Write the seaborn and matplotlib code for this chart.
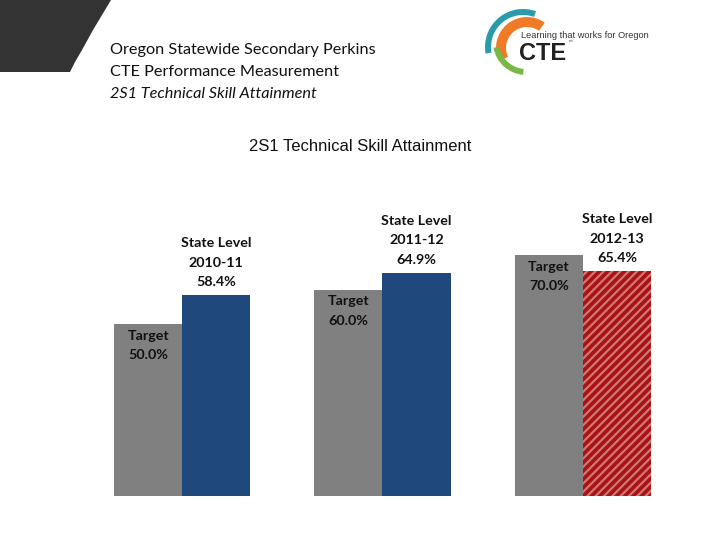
import numpy as np
import pandas as pd
import matplotlib
matplotlib.use("Agg")
import matplotlib.pyplot as plt
import matplotlib.patches as mpatches
import seaborn as sns

# chart data
years = ["2010-11", "2011-12", "2012-13"]
target = [50.0, 60.0, 70.0]
state_level = [58.4, 64.9, 65.4]

header_lines = ["Oregon Statewide Secondary Perkins",
                "CTE Performance Measurement",
                "2S1 Technical Skill Attainment"]
chart_title = "2S1 Technical Skill Attainment"

GRAY = "#808080"
BLUE = "#1f497d"
RED = "#a81414"
STRIPE = "#d27676"

sns.set_theme(style="white")
plt.rcParams["font.family"] = ["Lato", "DejaVu Sans"]
plt.rcParams["hatch.linewidth"] = 1.6

df = pd.DataFrame({
    "year": years * 2,
    "series": ["Target"] * len(years) + ["State Level"] * len(years),
    "value": target + state_level,
})

fig = plt.figure(figsize=(7.2, 5.4), dpi=100)
ax = fig.add_axes([82 / 720, 44 / 540, 601 / 720, 344 / 540])

sns.barplot(data=df, x="year", y="value", hue="series",
            palette={"Target": GRAY, "State Level": BLUE},
            width=0.68, gap=0, saturation=1, linewidth=0,
            legend=False, ax=ax)

ax.set_xlim(-0.5, 2.5)
ax.set_ylim(0, 100)
ax.axis("off")

# last state bar: red with diagonal stripes
last = ax.containers[1].patches[-1]
last.set_facecolor(RED)
last.set_edgecolor(STRIPE)
last.set_hatch("////")
last.set_linewidth(0)

# labels
for bar, v in zip(ax.containers[0].patches, target):
    cx = bar.get_x() + bar.get_width() / 2
    ax.annotate(f"Target\n{v:.1f}%", (cx, v), xytext=(0, -4),
                textcoords="offset points", ha="center", va="top",
                fontsize=10.3, fontweight="bold", linespacing=1.75,
                color="#111111")
for bar, v, yr in zip(ax.containers[1].patches, state_level, years):
    cx = bar.get_x() + bar.get_width() / 2
    ax.annotate(f"State Level\n{yr}\n{v:.1f}%", (cx, v), xytext=(0, 5),
                textcoords="offset points", ha="center", va="bottom",
                fontsize=10.3, fontweight="bold", linespacing=1.75,
                color="#111111")

fig.text(360 / 720, 1 - 147 / 540, chart_title, ha="center", va="center",
         fontsize=12, family="Liberation Sans", color="#111111")

# header text
for i, line in enumerate(header_lines):
    fig.text(110 / 720, 1 - (50 + 22 * i) / 540, line, ha="left", va="center",
             fontsize=11.7, color="#111111",
             style="italic" if i == 2 else "normal")

# decorations drawn in pixel coordinates
ov = fig.add_axes([0, 0, 1, 1], zorder=-1)
ov.set_xlim(0, 720)
ov.set_ylim(540, 0)
ov.axis("off")

# dark corner shape
ov.add_patch(mpatches.Polygon([(0, 0), (111, 0), (102, 15), (93, 30), (82, 50),
                               (75, 62), (70, 72), (0, 72)],
                              closed=True, color="#333333", lw=0))

# logo arcs (screen angles flipped for inverted y)
def arc(cx, cy, r, w, a1, a2, c):
    ov.add_patch(mpatches.Wedge((cx, cy), r, -a2, -a1, width=w, color=c, lw=0))

arc(523, 47, 38, 6, 70, 190, "#2a9bab")
arc(527, 48, 31, 10, 55, 205, "#f07a25")
arc(526, 42, 33, 6, 190, 265, "#7ab648")

ov.text(521, 35, "Learning that works for Oregon", ha="left", va="center",
        fontsize=6.7, color="#333333", family="Liberation Sans")
ov.text(519, 53, "CTE", ha="left", va="center", fontsize=17,
        fontweight="bold", color="#222222", family="Liberation Sans")
ov.text(567, 44, "\u2122", ha="left", va="center", fontsize=4,
        color="#333333", family="DejaVu Sans")

fig.savefig("out.png", dpi=100)
